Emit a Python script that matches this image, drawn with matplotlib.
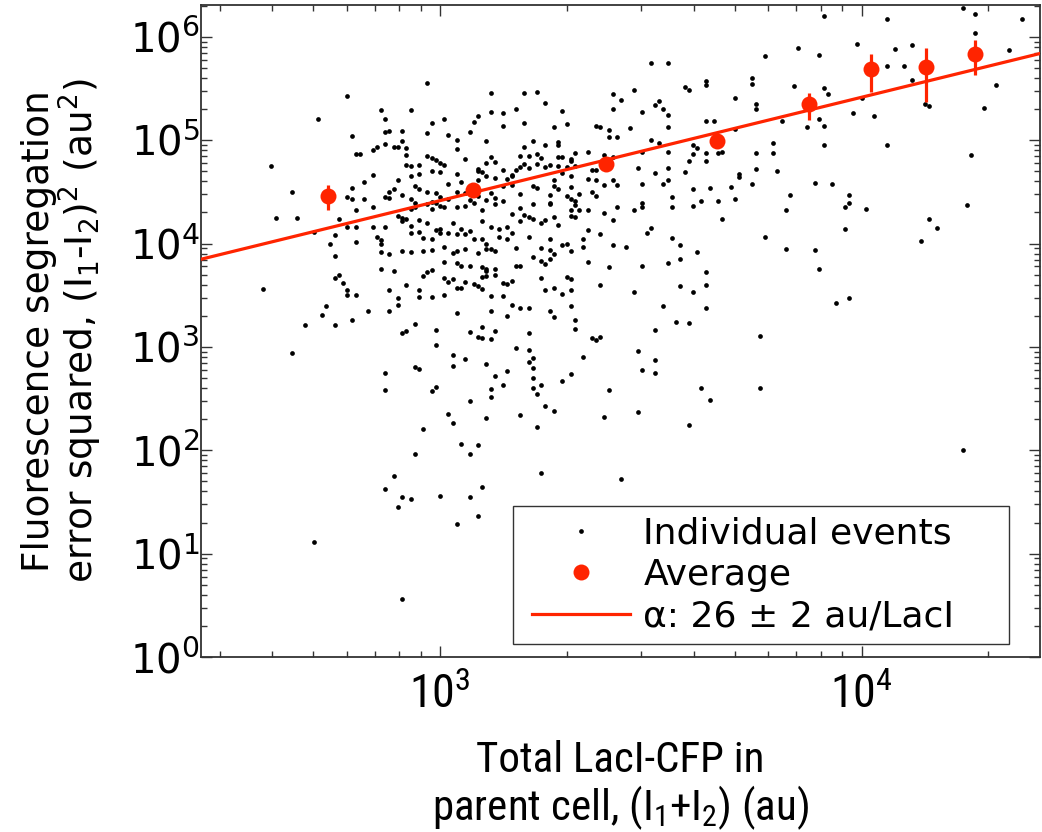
import numpy as np
import matplotlib
matplotlib.use("Agg")
import matplotlib.pyplot as plt
from matplotlib.lines import Line2D
from matplotlib.legend_handler import HandlerLine2D
from matplotlib.ticker import LogLocator, NullFormatter

# Individual division events: log10 of total LacI-CFP in the parent cell (au)
event_total_log10 = [
    2.97, 3.12, 3.20, 3.23, 2.78, 3.41, 3.25, 3.43, 2.86, 2.93,
    3.18, 3.29, 3.12, 3.41, 3.15, 2.87, 3.01, 3.09, 2.98, 3.15,
    3.08, 3.20, 2.71, 3.30, 3.27, 3.37, 3.38, 2.88, 2.87, 2.91,
    2.97, 3.07, 3.40, 2.79, 3.02, 3.04, 3.22, 3.40, 3.42, 3.11,
    3.28, 3.28, 2.91, 2.85, 2.87, 2.89, 2.90, 2.92, 3.25, 3.20,
    3.04, 3.35, 2.81, 2.80, 2.84, 2.92, 2.97, 2.98, 2.99, 3.00,
    3.01, 3.06, 3.12, 3.19, 3.21, 3.23, 3.24, 3.28, 3.29, 3.31,
    3.32, 3.39, 3.41, 2.60, 3.11, 3.13, 3.20, 3.23, 3.26, 3.28,
    3.31, 3.32, 2.92, 2.93, 2.95, 2.98, 3.00, 3.09, 3.09, 3.10,
    3.04, 3.15, 3.17, 3.18, 3.19, 3.21, 3.25, 3.30, 3.36, 3.37,
    2.84, 2.82, 2.90, 2.93, 2.95, 2.94, 2.95, 3.02, 3.05, 3.09,
    3.11, 3.13, 3.16, 3.17, 3.17, 3.19, 3.27, 3.29, 3.31, 3.35,
    3.37, 3.39, 3.41, 2.79, 2.88, 2.89, 2.87, 2.91, 2.97, 2.99,
    3.04, 3.06, 3.08, 3.09, 3.12, 3.15, 3.22, 3.23, 3.27, 3.28,
    3.31, 3.33, 3.36, 3.42, 2.65, 2.78, 2.79, 2.82, 2.88, 2.93,
    2.94, 2.98, 2.99, 3.00, 3.02, 3.07, 3.11, 3.13, 3.15, 3.26,
    3.26, 3.30, 3.31, 3.32, 3.32, 3.37, 3.42, 2.80, 2.84, 2.90,
    2.91, 2.92, 2.93, 2.94, 2.97, 2.98, 3.00, 3.01, 3.04, 3.06,
    3.08, 3.10, 3.13, 3.17, 3.19, 3.20, 3.22, 3.24, 3.26, 3.27,
    3.31, 3.31, 3.33, 3.35, 3.39, 2.61, 2.66, 2.76, 2.78, 2.80,
    2.84, 2.87, 2.91, 2.93, 2.95, 2.97, 2.99, 3.00, 3.03, 3.05,
    3.07, 3.10, 3.12, 3.14, 3.16, 3.19, 3.21, 3.22, 3.25, 3.28,
    3.32, 3.35, 3.38, 3.41, 2.70, 2.75, 2.80, 2.85, 2.86, 2.86,
    2.93, 2.95, 2.96, 2.98, 3.00, 3.02, 3.04, 3.06, 3.08, 3.10,
    3.11, 3.12, 3.14, 3.16, 3.17, 3.21, 3.26, 3.29, 3.30, 3.34,
    3.34, 3.41, 2.74, 2.75, 2.86, 2.88, 2.91, 2.93, 2.96, 2.98,
    3.01, 3.03, 3.04, 3.06, 3.09, 3.11, 3.13, 3.18, 3.22, 3.24,
    3.26, 3.27, 3.31, 3.35, 3.01, 3.04, 3.05, 3.07, 3.10, 3.11,
    3.13, 3.18, 3.19, 3.24, 3.25, 3.26, 3.40, 2.75, 2.76, 2.77,
    2.86, 2.89, 2.92, 2.96, 2.97, 2.98, 3.01, 3.02, 3.03, 3.05,
    3.06, 3.08, 3.09, 3.10, 3.11, 3.11, 3.13, 3.15, 3.16, 3.17,
    3.24, 3.25, 3.27, 3.30, 3.31, 3.38, 2.58, 2.78, 2.78, 2.80,
    2.88, 2.90, 2.95, 2.95, 2.98, 3.01, 3.04, 3.10, 3.12, 3.15,
    3.29, 3.31, 2.73, 2.83, 2.88, 2.90, 3.04, 3.12, 3.17, 3.19,
    3.21, 3.26, 3.31, 2.72, 2.68, 2.75, 2.79, 2.91, 2.92, 2.94,
    2.99, 3.07, 3.09, 3.10, 3.10, 3.12, 3.13, 3.16, 3.21, 3.27,
    3.32, 3.32, 3.36, 3.37, 3.38, 2.99, 3.18, 3.21, 3.03, 3.06,
    3.11, 3.21, 3.22, 3.34, 2.65, 2.87, 2.94, 2.95, 3.03, 3.22,
    3.16, 3.13, 3.22, 3.31, 3.29, 3.40, 2.87, 2.98, 2.99, 3.12,
    3.15, 3.22, 3.24, 3.23, 3.12, 3.07, 3.25, 3.27, 3.02, 3.03,
    3.11, 3.19, 3.23, 3.39, 2.96, 3.05, 3.09, 3.07, 2.94, 3.24,
    2.89, 2.87, 2.91, 2.93, 2.90, 3.00, 3.07, 3.10, 3.04, 3.09,
    2.70, 2.91, 3.91, 4.24, 4.27, 4.06, 4.38, 4.27, 3.99, 4.12,
    4.08, 4.35, 3.85, 3.77, 3.90, 3.50, 3.54, 4.06, 4.10, 4.12,
    4.32, 3.74, 3.74, 3.84, 3.91, 3.92, 3.63, 3.63, 3.58, 3.59,
    3.46, 3.70, 3.51, 3.52, 3.53, 3.54, 3.54, 3.48, 3.75, 3.75,
    4.00, 3.98, 4.03, 4.15, 4.16, 4.29, 3.65, 3.63, 3.87, 3.90,
    3.91, 3.81, 3.70, 3.45, 3.50, 3.52, 3.79, 3.60, 3.60, 3.61,
    3.91, 4.06, 4.26, 3.48, 3.54, 3.63, 3.66, 3.67, 3.75, 3.79,
    3.59, 3.63, 3.47, 3.51, 3.54, 3.58, 3.75, 3.80, 3.48, 3.53,
    3.54, 3.69, 3.64, 3.71, 3.71, 3.74, 3.89, 3.93, 3.83, 3.97,
    3.55, 3.60, 3.62, 3.46, 3.48, 3.48, 3.55, 3.60, 3.66, 3.70,
    3.82, 3.96, 3.97, 4.01, 4.25, 3.50, 3.49, 3.67, 3.96, 3.55,
    3.57, 3.77, 3.44, 4.14, 4.16, 4.18, 3.61, 3.82, 3.89, 3.90,
    3.48, 3.54, 3.57, 3.63, 3.57, 3.60, 3.63, 3.46, 3.53, 3.63,
    3.94, 3.97, 3.56, 3.59, 3.51, 3.76, 3.47, 3.51, 3.48, 3.51,
    3.62, 3.76, 3.64, 3.47, 3.59, 4.24, 3.43,
]

# log10 of the segregation error squared, (I1 - I2)^2 (au^2), same order
event_err_log10 = [
    5.55, 5.46, 5.46, 5.47, 5.43, 5.45, 5.36, 5.39, 5.29, 5.29,
    5.30, 5.28, 5.27, 5.30, 5.26, 5.20, 5.20, 5.23, 5.17, 5.14,
    5.18, 5.17, 5.20, 5.16, 5.13, 5.14, 5.13, 5.09, 5.08, 5.09,
    5.07, 5.08, 5.10, 5.04, 5.05, 5.00, 4.99, 5.03, 5.03, 4.99,
    4.98, 4.95, 4.99, 4.93, 4.96, 4.93, 4.93, 4.92, 4.95, 4.93,
    4.91, 4.89, 4.87, 4.87, 4.90, 4.86, 4.85, 4.83, 4.81, 4.78,
    4.76, 4.82, 4.84, 4.85, 4.85, 4.87, 4.83, 4.84, 4.84, 4.82,
    4.88, 4.86, 4.84, 4.75, 4.78, 4.79, 4.77, 4.77, 4.76, 4.75,
    4.80, 4.75, 4.76, 4.75, 4.76, 4.70, 4.69, 4.72, 4.70, 4.69,
    4.67, 4.71, 4.66, 4.71, 4.74, 4.73, 4.74, 4.74, 4.71, 4.71,
    4.66, 4.60, 4.61, 4.65, 4.67, 4.56, 4.53, 4.58, 4.60, 4.61,
    4.65, 4.63, 4.62, 4.65, 4.57, 4.48, 4.61, 4.68, 4.65, 4.62,
    4.61, 4.57, 4.61, 4.54, 4.50, 4.53, 4.45, 4.47, 4.50, 4.49,
    4.50, 4.49, 4.51, 4.46, 4.49, 4.56, 4.56, 4.54, 4.56, 4.53,
    4.55, 4.48, 4.50, 4.57, 4.50, 4.45, 4.43, 4.43, 4.44, 4.43,
    4.39, 4.40, 4.39, 4.45, 4.43, 4.42, 4.42, 4.44, 4.41, 4.47,
    4.39, 4.46, 4.43, 4.41, 4.37, 4.46, 4.35, 4.32, 4.35, 4.27,
    4.25, 4.24, 4.33, 4.35, 4.38, 4.33, 4.36, 4.35, 4.35, 4.36,
    4.39, 4.32, 4.38, 4.29, 4.34, 4.28, 4.38, 4.20, 4.38, 4.26,
    4.32, 4.27, 4.32, 4.32, 4.30, 4.25, 4.25, 4.24, 4.16, 4.16,
    4.16, 4.16, 4.22, 4.17, 4.23, 4.20, 4.13, 4.14, 4.20, 4.14,
    4.12, 4.22, 4.16, 4.14, 4.16, 4.22, 4.26, 4.24, 4.23, 4.18,
    4.26, 4.13, 4.09, 4.23, 4.11, 4.08, 4.01, 4.06, 4.03, 4.00,
    4.10, 4.11, 4.05, 4.04, 4.10, 4.10, 4.09, 4.09, 4.04, 4.04,
    4.00, 3.95, 4.06, 4.04, 4.10, 4.06, 4.04, 3.99, 4.00, 4.04,
    3.97, 3.99, 4.00, 3.88, 3.92, 3.90, 3.93, 3.92, 3.93, 3.94,
    3.97, 3.91, 3.93, 3.95, 3.91, 3.95, 3.93, 3.96, 3.87, 3.96,
    3.94, 3.90, 3.93, 3.82, 3.82, 3.81, 3.78, 3.78, 3.77, 3.75,
    3.75, 3.78, 3.78, 3.83, 3.80, 3.85, 3.77, 3.67, 3.70, 3.62,
    3.75, 3.73, 3.60, 3.69, 3.72, 3.74, 3.67, 3.63, 3.66, 3.57,
    3.63, 3.61, 3.59, 3.68, 3.69, 3.73, 3.70, 3.62, 3.61, 3.64,
    3.67, 3.55, 3.57, 3.68, 3.66, 3.60, 3.56, 3.55, 3.50, 3.50,
    3.55, 3.47, 3.55, 3.48, 3.48, 3.50, 3.57, 3.56, 3.49, 3.49,
    3.51, 3.55, 3.40, 3.35, 3.35, 3.41, 3.33, 3.35, 3.41, 3.38,
    3.38, 3.35, 3.40, 3.31, 3.21, 3.21, 3.26, 3.13, 3.15, 3.22,
    3.16, 3.14, 3.10, 3.09, 3.19, 3.08, 3.15, 3.30, 3.13, 3.29,
    3.26, 3.17, 3.09, 3.07, 3.10, 3.02, 2.99, 2.97, 2.92, 2.88,
    2.83, 2.85, 2.89, 2.90, 2.94, 2.75, 2.81, 2.79, 2.82, 2.80,
    2.77, 2.72, 2.70, 2.74, 2.67, 2.58, 2.58, 2.57, 2.61, 2.59,
    2.63, 2.60, 2.63, 2.54, 2.52, 2.48, 2.43, 2.38, 2.35, 2.26,
    2.31, 2.34, 2.23, 2.32, 2.21, 2.06, 2.05, 1.96, 1.96, 1.78,
    1.75, 1.63, 1.55, 1.53, 1.45, 1.56, 1.55, 1.64, 1.29, 1.36,
    1.11, 0.56, 6.20, 6.28, 6.22, 6.17, 6.17, 6.04, 5.93, 5.92,
    5.88, 5.87, 5.89, 5.81, 5.82, 5.75, 5.75, 5.72, 5.72, 5.58,
    5.53, 5.60, 5.54, 5.52, 5.50, 5.45, 5.57, 5.53, 5.51, 5.49,
    5.49, 5.41, 5.34, 5.38, 5.30, 5.24, 5.13, 5.27, 5.30, 5.35,
    5.41, 5.26, 5.23, 5.35, 5.33, 5.31, 5.19, 5.19, 5.13, 5.20,
    5.14, 5.19, 5.11, 5.12, 5.00, 4.97, 4.97, 4.95, 4.87, 4.92,
    4.95, 4.95, 4.86, 4.89, 4.89, 4.88, 4.88, 4.89, 4.88, 4.88,
    4.80, 4.80, 4.73, 4.68, 4.73, 4.69, 4.72, 4.70, 4.58, 4.58,
    4.61, 4.55, 4.54, 4.64, 4.67, 4.58, 4.59, 4.58, 4.47, 4.47,
    4.45, 4.53, 4.41, 4.32, 4.39, 4.35, 4.35, 4.36, 4.41, 4.43,
    4.32, 4.35, 4.39, 4.33, 4.37, 4.15, 4.10, 4.24, 4.14, 4.05,
    3.99, 4.06, 3.97, 4.02, 4.24, 4.15, 3.92, 3.95, 3.94, 3.75,
    3.78, 3.81, 3.85, 3.72, 3.59, 3.53, 3.60, 3.53, 3.40, 3.38,
    3.42, 3.47, 3.24, 3.23, 3.16, 3.11, 2.96, 2.87, 2.78, 2.75,
    2.60, 2.60, 2.49, 2.37, 2.24, 2.00, 1.72,
]

# Binned averages with standard errors
avg_total = [541, 1200, 2480, 4550, 7500, 10520, 14220, 18530]
avg_err = [28900, 33300, 59400, 98600, 223000, 483000, 508000, 674000]
avg_sem = [7700, 2500, 3500, 11000, 66000, 191000, 274000, 250000]

# Linear fit (I1 - I2)^2 = alpha * (I1 + I2)
alpha_fit = 26
alpha_unc = 2

RED = "#ff2400"
NARROW = ["Liberation Sans Narrow", "Roboto Condensed", "DejaVu Sans"]

x_events = 10.0 ** np.array(event_total_log10)
y_events = 10.0 ** np.array(event_err_log10)

fig = plt.figure(figsize=(10.42, 8.32), dpi=100)
ax = fig.add_axes([0.1929, 0.2103, 0.8052, 0.7837])
ax.set_xscale("log")
ax.set_yscale("log")
ax.set_xlim(271, 26500)
ax.set_ylim(1, 2.03e6)

ax.plot(x_events, y_events, "o", ms=3.4, color="black", mec="none", zorder=2)

x_fit = np.array(ax.get_xlim())
ax.plot(x_fit, alpha_fit * x_fit, color=RED, lw=2.3, zorder=3)

ax.errorbar(avg_total, avg_err, yerr=avg_sem, fmt="none", ecolor=RED,
            elinewidth=2.3, capsize=0, zorder=4)
ax.plot(avg_total, avg_err, "o", ms=11.5, color=RED, mec="none", zorder=5)

# ticks on all four sides, pointing inward
ax.xaxis.set_major_locator(LogLocator(base=10, numticks=20))
ax.xaxis.set_minor_locator(LogLocator(base=10, subs=np.arange(2, 10), numticks=20))
ax.xaxis.set_minor_formatter(NullFormatter())
ax.yaxis.set_major_locator(LogLocator(base=10, numticks=20))
ax.yaxis.set_minor_locator(LogLocator(base=10, subs=np.arange(2, 10), numticks=20))
ax.yaxis.set_minor_formatter(NullFormatter())
ax.tick_params(which="both", direction="in", top=True, right=True,
               width=1.0, color="#333333")
ax.tick_params(which="major", length=8)
ax.tick_params(which="minor", length=4)
ax.tick_params(axis="y", labelsize=29, pad=1)
ax.tick_params(axis="x", labelsize=33, pad=11)
for lab in ax.get_xticklabels():
    lab.set_family(NARROW)
    lab.set_stretch("condensed")
for s in ax.spines.values():
    s.set_linewidth(1.3)
    s.set_color("#333333")

ax.set_ylabel("Fluorescence segregation\n"
              "error squared, (I$_1$-I$_2$)$^2$ (au$^2$)",
              fontsize=27, linespacing=1.0)
ax.yaxis.set_label_coords(-0.116, 0.5)
ax.set_xlabel("Total LacI-CFP in\n"
              r"parent cell, (I$_{\mathdefault{1}}$+I$_{\mathdefault{2}}$) (au)",
              fontsize=31, family=NARROW, stretch="condensed", linespacing=1.05)
ax.xaxis.set_label_coords(0.5, -0.128)

handles = [
    Line2D([], [], ls="none", marker="o", ms=3.4, color="black", mec="none"),
    Line2D([], [], ls="none", marker="o", ms=11.5, color=RED, mec="none"),
    Line2D([], [], color=RED, lw=2.3),
]
labels = ["Individual events", "Average",
          f"\u03b1: {alpha_fit} \u00b1 {alpha_unc} au/LacI"]
leg = ax.legend(handles, labels, loc="lower left", mode="expand",
                bbox_to_anchor=(0.3719, 0.0199, 0.5912, 0.2163),
                borderaxespad=0, fancybox=False, framealpha=1,
                edgecolor="#333333", prop={"size": 26},
                handlelength=2.95, handletextpad=0.36, borderpad=0.3,
                labelspacing=0.2, numpoints=1,
                handler_map={Line2D: HandlerLine2D(xpad=0.22)})
leg.get_frame().set_linewidth(1.0)

fig.savefig("out.png", dpi=100)
